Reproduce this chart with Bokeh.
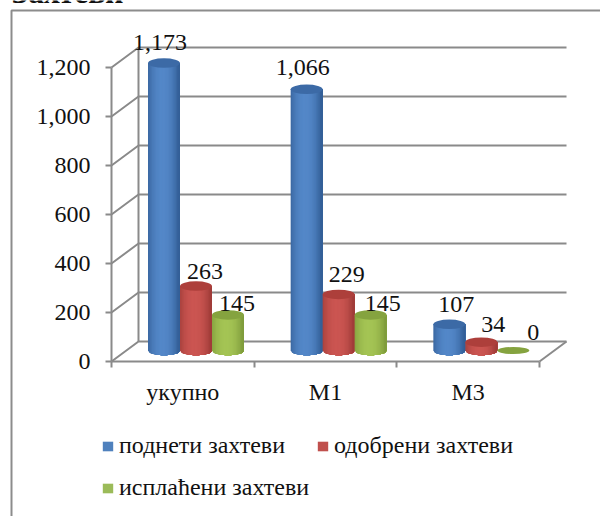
import math
from bokeh.plotting import figure
from bokeh.embed import file_html
from bokeh.resources import INLINE
from bokeh.core.properties import value
from bokeh.models import (FixedTicker, NumeralTickFormatter, Legend, LegendItem, Range1d)

categories = ["укупно", "М1", "М3"]
series_names = ["поднети захтеви", "одобрени захтеви", "исплаћени захтеви"]
podneti = [1173, 1066, 107]
odobreni = [263, 229, 34]
isplaceni = [145, 145, 0]
y_ticks = [0, 200, 400, 600, 800, 1000, 1200]
title_text = "Захтеви"

series = [podneti, odobreni, isplaceni]
label_text = {0: ["1,173", "1,066", "107"], 1: ["263", "229", "34"], 2: ["145", "145", "0"]}
label_dx = [[-4, -4, 7], [9, 8, 12], [9, 12, 20]]
label_dy = [[21, 22, 20], [15, 20, 18], [11, 11, 18]]

edge = ["#335f97", "#a03c39", "#7f9c3c"]
mid = ["#5387c8", "#cb5551", "#a4c454"]
cap = ["#3c6aa6", "#ad3f3b", "#85a33f"]
swatch = ["#4f81bd", "#c0504d", "#9bbb59"]
grid = "#8a8a8a"

W, H = 600, 516
PX_CAT = 142.67
PX_VAL = 0.245
X0, Y0 = 111, 361

p = figure(width=W, height=H, output_backend="svg", toolbar_location=None, min_border=0,
           x_range=Range1d(-X0 / PX_CAT, (W - X0) / PX_CAT),
           y_range=Range1d(-(H - Y0) / PX_VAL, Y0 / PX_VAL),
           outline_line_color=None)
p.grid.visible = False

DX = 27 / PX_CAT
DY = 20 / PX_VAL


def sx(px):
    return (px - X0) / PX_CAT


def sy(py):
    return (Y0 - py) / PX_VAL


# chart frame: only its left and top sides are inside the picture
p.line([sx(11), sx(11), sx(W + 5)], [sy(H + 5), sy(10), sy(10)], line_color="#8c8c8c", line_width=2)

# walls
for v in y_ticks:
    p.line([0, DX, 3 + DX], [v, v + DY, v + DY], line_color=grid, line_width=2)
p.line([DX, DX], [DY, 1200 + DY], line_color=grid, line_width=2)
p.line([3, 3 + DX], [0, DY], line_color=grid, line_width=2)

# cylinders
BAR_W = 32 / PX_CAT
SLOTS = [147.5, 179.5, 211.5]
ELL_H = 9.5 / PX_VAL
BASE = 11 / PX_VAL
N = 24


def mix(a, b, t):
    ca = [int(a[i:i + 2], 16) for i in (1, 3, 5)]
    cb = [int(b[i:i + 2], 16) for i in (1, 3, 5)]
    return "#%02x%02x%02x" % tuple(round(x + (y - x) * t) for x, y in zip(ca, cb))


for s, vals in enumerate(series):
    for c, v in enumerate(vals):
        left = c + (SLOTS[s] - 111) / PX_CAT
        cx = left + BAR_W / 2
        cy = v + BASE
        if v > 0:
            for i in range(N):
                us = [-1 + 2 * k / N for k in range(i, N + 1)]
                um = -1 + (2 * i + 1) / N
                bx = [cx + u * BAR_W / 2 for u in us]
                by = [BASE - ELL_H / 2 * math.sqrt(max(0, 1 - u * u)) for u in us]
                col = mix(edge[s], mid[s], max(0, 1 - abs(um + 0.1) ** 2.2))
                p.patch(bx + [bx[-1], bx[0]], by + [cy, cy], fill_color=col, line_color=None)
        p.ellipse(x=[cx], y=[cy], width=BAR_W, height=ELL_H if v > 0 else ELL_H * 0.75,
                  fill_color=cap[s], line_color=None)

for s, vals in enumerate(series):
    for c, v in enumerate(vals):
        left = c + (SLOTS[s] - 111) / PX_CAT
        p.text(x=[left + BAR_W / 2], y=[v + BASE], text=[label_text[s][c]],
               x_offset=label_dx[s][c], y_offset=-label_dy[s][c],
               text_font=value("Liberation Serif"), text_font_size="24px", text_color="#111111",
               text_align="center", text_baseline="alphabetic")

# title, cut by the top of the picture
p.text(x=[sx(11)], y=[sy(-8)], text=[title_text],
       text_font=value("Liberation Serif"), text_font_style="bold", text_font_size="31.5px",
       text_color="#111111", text_align="left", text_baseline="alphabetic")

# axes
xa = p.xaxis[0]
xa.fixed_location = 0
xa.bounds = (0, 3)
xa.ticker = FixedTicker(ticks=[0.5, 1.5, 2.5], minor_ticks=[0, 1, 2, 3])
xa.major_label_overrides = {0.5: categories[0], 1.5: categories[1], 2.5: categories[2]}
xa.major_tick_in = 0
xa.major_tick_out = 0
xa.minor_tick_in = 0
xa.minor_tick_out = 6
xa.minor_tick_line_color = grid
xa.minor_tick_line_width = 2
xa.axis_line_color = grid
xa.axis_line_width = 2
xa.major_label_standoff = 11
xa.major_label_text_font = "Liberation Serif"
xa.major_label_text_font_size = "24px"
xa.major_label_text_color = "#111111"

ya = p.yaxis[0]
ya.fixed_location = 0
ya.bounds = (0, 1200)
ya.ticker = FixedTicker(ticks=y_ticks)
ya.formatter = NumeralTickFormatter(format="0,0")
ya.major_tick_in = 0
ya.major_tick_out = 6
ya.minor_tick_line_color = None
ya.major_tick_line_color = grid
ya.major_tick_line_width = 2
ya.axis_line_color = grid
ya.axis_line_width = 2
ya.major_label_standoff = 15
ya.major_label_text_font = "Liberation Serif"
ya.major_label_text_font_size = "24px"
ya.major_label_text_color = "#111111"

# legend: two rows, each of its own
items = []
for s, name in enumerate(series_names):
    r = p.vbar(x=[float("nan")], top=[float("nan")], width=0.1, fill_color=swatch[s], line_color=None)
    items.append(LegendItem(label=name, renderers=[r]))


def legend(row, loc):
    return Legend(items=row, location=loc, orientation="horizontal",
                  background_fill_alpha=0, border_line_color=None, glyph_width=13, glyph_height=12,
                  label_standoff=5, spacing=31, padding=0, margin=0,
                  label_text_font="Liberation Serif", label_text_font_size="24px",
                  label_text_color="#111111")


p.add_layout(legend(items[:2], (101, 57)))
p.add_layout(legend(items[2:], (101, 15)))

open("out.html", "w").write(file_html(p, INLINE))
